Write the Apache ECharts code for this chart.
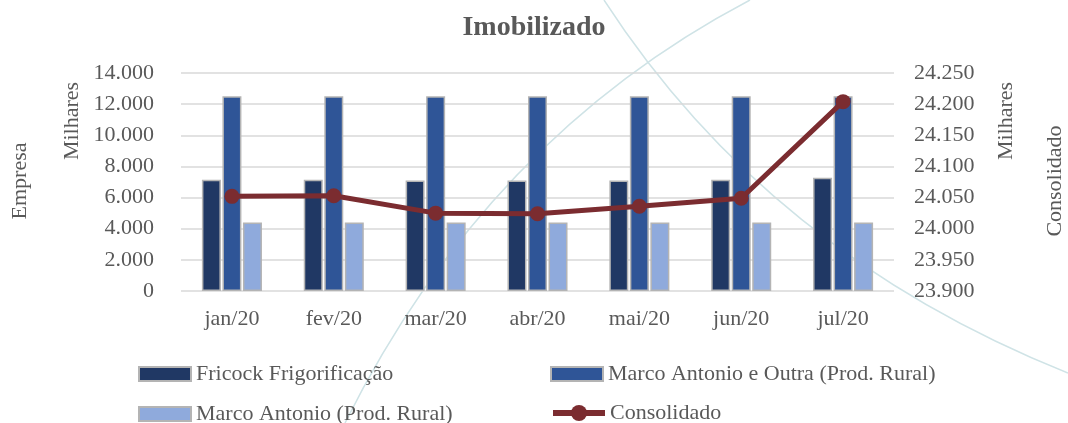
<!DOCTYPE html>
<html>
<head>
<meta charset="utf-8">
<title>Imobilizado</title>
<script src="https://cdn.jsdelivr.net/npm/echarts@6/dist/echarts.min.js"></script>
<style>
  html, body { margin: 0; padding: 0; background: #fff; }
  #chart { width: 1068px; height: 423px; }
</style>
</head>
<body>
<div id="chart"></div>
<script>
  // dados (em milhares)
  var meses = ['jan/20', 'fev/20', 'mar/20', 'abr/20', 'mai/20', 'jun/20', 'jul/20'];
  var fricock = [7150, 7150, 7100, 7100, 7100, 7150, 7280];
  var marcoOutra = [12500, 12500, 12500, 12500, 12500, 12500, 12500];
  var marcoRural = [4400, 4400, 4400, 4400, 4400, 4400, 4400];
  var consolidado = [24052, 24053, 24025, 24024, 24036, 24049, 24204];

  var nomes = ['Fricock Frigorificação', 'Marco Antonio e Outra (Prod. Rural)',
               'Marco Antonio (Prod. Rural)', 'Consolidado'];

  var cinza = '#595959';
  var fonte = '"Liberation Serif", "DejaVu Serif", serif';

  function milhar(v) {
    return String(Math.round(v)).replace(/\B(?=(\d{3})+(?!\d))/g, '.');
  }

  var chart = echarts.init(document.getElementById('chart'));

  var barStyle = function (cor) {
    return { color: cor, borderColor: '#b4b4b4', borderWidth: 1.5 };
  };

  var legendItem = function (nome, left, top, extra) {
    var l = {
      data: [nome], left: left, top: top,
      icon: 'rect',
      itemWidth: 52, itemHeight: 14, itemGap: 0,
      textStyle: { color: cinza, fontFamily: fonte, fontSize: 22 },
      selectedMode: false
    };
    return Object.assign(l, extra || {});
  };

  var option = {
    animation: false,
    textStyle: { fontFamily: fonte },
    title: {
      text: 'Imobilizado', left: 'center', top: 9,
      textStyle: { color: cinza, fontFamily: fonte, fontSize: 28, fontWeight: 'bold' }
    },
    legend: [
      legendItem(nomes[0], 133, 358),
      legendItem(nomes[1], 545, 358),
      legendItem(nomes[2], 133, 398),
      legendItem(nomes[3], 545, 397, {
        icon: null, itemHeight: 20,
        lineStyle: { width: 6 }
      })
    ],
    grid: { left: 181, right: 174, top: 73, bottom: 132 },
    xAxis: {
      type: 'category',
      data: meses,
      axisLine: { show: false },
      axisTick: { show: false },
      axisLabel: { color: cinza, fontFamily: fonte, fontSize: 22, margin: 17 }
    },
    yAxis: [
      {
        type: 'value', min: 0, max: 14000, interval: 2000,
        axisLine: { show: false }, axisTick: { show: false },
        splitLine: { lineStyle: { color: '#d9d9d9', width: 1.5 } },
        axisLabel: { color: cinza, fontFamily: fonte, fontSize: 22, margin: 27, formatter: milhar }
      },
      {
        type: 'value', min: 23900, max: 24250, interval: 50,
        axisLine: { show: false }, axisTick: { show: false },
        splitLine: { show: false },
        axisLabel: { color: cinza, fontFamily: fonte, fontSize: 22, margin: 20, formatter: milhar }
      }
    ],
    graphic: [
      { type: 'bezierCurve', z: -10, silent: true,
        shape: { x1: 604, y1: 0, cpx1: 768, cpy1: 253, x2: 1068, y2: 373 },
        style: { stroke: '#cfe3e6', lineWidth: 1.5, fill: null } },
      { type: 'bezierCurve', z: -10, silent: true,
        shape: { x1: 750, y1: 0, cpx1: 487, cpy1: 138, x2: 345, y2: 423 },
        style: { stroke: '#cfe3e6', lineWidth: 1.5, fill: null } },
      { type: 'text', x: 72, y: 121, rotation: Math.PI / 2,
        style: { text: 'Milhares', fill: cinza, font: '22px ' + fonte, align: 'center', verticalAlign: 'middle' } },
      { type: 'text', x: 20, y: 181, rotation: Math.PI / 2,
        style: { text: 'Empresa', fill: cinza, font: '22px ' + fonte, align: 'center', verticalAlign: 'middle' } },
      { type: 'text', x: 1006, y: 121, rotation: Math.PI / 2,
        style: { text: 'Milhares', fill: cinza, font: '22px ' + fonte, align: 'center', verticalAlign: 'middle' } },
      { type: 'text', x: 1055, y: 181, rotation: Math.PI / 2,
        style: { text: 'Consolidado', fill: cinza, font: '22px ' + fonte, align: 'center', verticalAlign: 'middle' } }
    ],
    series: [
      {
        name: nomes[0], type: 'bar', data: fricock,
        barWidth: 19, barGap: '8%',
        itemStyle: barStyle('#203864')
      },
      {
        name: nomes[1], type: 'bar', data: marcoOutra,
        barWidth: 19, barGap: '8%',
        itemStyle: barStyle('#2F5597')
      },
      {
        name: nomes[2], type: 'bar', data: marcoRural,
        barWidth: 19, barGap: '8%',
        itemStyle: barStyle('#8FAADC')
      },
      {
        name: nomes[3], type: 'line', yAxisIndex: 1, data: consolidado,
        symbol: 'circle', symbolSize: 15,
        itemStyle: { color: '#7B2C30' },
        lineStyle: { color: '#7B2C30', width: 5 },
        z: 5
      }
    ]
  };

  chart.setOption(option);
</script>
</body>
</html>
